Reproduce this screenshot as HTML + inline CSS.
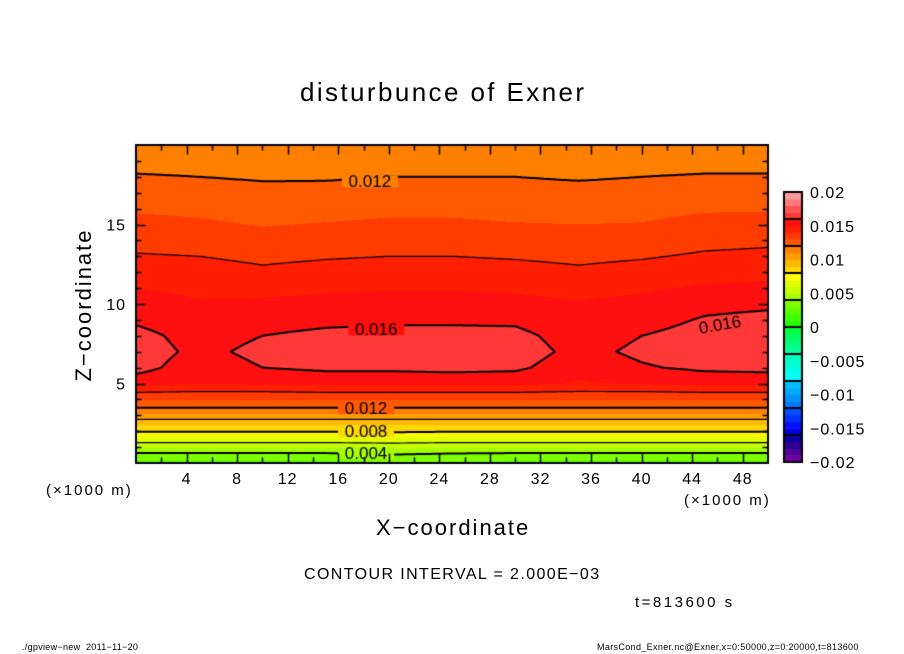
<!DOCTYPE html>
<html><head><meta charset="utf-8">
<style>
html,body{margin:0;padding:0;background:#fff;}
#wrap{position:relative;width:904px;height:654px;overflow:hidden;font-family:"Liberation Sans",sans-serif;color:#000;}
.t{position:absolute;white-space:nowrap;}
canvas{position:absolute;left:0;top:0;}
svg{position:absolute;left:0;top:0;}
</style></head>
<body>
<div id="wrap">
<canvas id="cv" width="904" height="654"></canvas>
<svg id="sv" width="904" height="654"></svg>
<div class="t" style="left:300px;top:77px;font-size:26px;letter-spacing:2.4px;">disturbunce of Exner</div>
<div class="t" style="left:84px;top:305px;font-size:22px;letter-spacing:2px;transform:translate(-50%,-50%) rotate(-90deg);">Z−coordinate</div>
<div class="t" style="left:376px;top:515px;font-size:22px;letter-spacing:2px;">X−coordinate</div>
<div class="t" style="left:46px;top:482px;font-size:15px;letter-spacing:2px;">(×1000 m)</div>
<div class="t" style="left:684px;top:492px;font-size:15px;letter-spacing:2px;">(×1000 m)</div>
<div class="t" style="left:304px;top:566px;font-size:16px;letter-spacing:1.4px;">CONTOUR INTERVAL = 2.000E−03</div>
<div class="t" style="left:635px;top:594px;font-size:15px;letter-spacing:2.5px;">t=813600 s</div>
<div class="t" style="left:22px;top:642px;font-size:9px;letter-spacing:0.3px;">./gpview−new &nbsp;2011−11−20</div>
<div class="t" style="left:597px;top:642px;font-size:9px;letter-spacing:0.35px;">MarsCond_Exner.nc@Exner,x=0:50000,z=0:20000,t=813600</div>
</div>
<script>
// ---- data ----
const xs=[0,5,10,15,20,25,30,35,40,45,50];
const zs=[0,0.5,1,1.5,2,2.5,3,3.5,4,4.5,5,6,7,8,9,10,12,14,16,18,20];
const vals=[
[0.0027,0.0027,0.0027,0.0027,0.0029,0.0028,0.0027,0.0027,0.0027,0.0027,0.0027],
[0.0036,0.0036,0.0036,0.0036,0.0039,0.0037,0.0036,0.0036,0.0036,0.0036,0.0036],
[0.0052,0.0052,0.0052,0.0052,0.0053,0.0052,0.0052,0.0052,0.0052,0.0052,0.0052],
[0.0066,0.0066,0.0066,0.0066,0.0067,0.0066,0.0066,0.0066,0.0066,0.0066,0.0066],
[0.0081,0.0081,0.0081,0.0081,0.0082,0.0081,0.0081,0.0081,0.0081,0.0081,0.0081],
[0.0093,0.0093,0.0093,0.0093,0.0093,0.0093,0.0093,0.0093,0.0093,0.0093,0.0093],
[0.0107,0.0107,0.0107,0.0107,0.0107,0.0107,0.0107,0.0107,0.0107,0.0107,0.0107],
[0.0121,0.0121,0.0121,0.0121,0.0121,0.0121,0.0121,0.0121,0.0121,0.0121,0.0121],
[0.0131,0.0131,0.0131,0.0131,0.0131,0.0131,0.0131,0.0131,0.0131,0.0131,0.0131],
[0.0141,0.0140,0.0140,0.0141,0.0141,0.0141,0.0141,0.0140,0.0140,0.0141,0.0141],
[0.0154,0.0150,0.0152,0.0153,0.0153,0.0153,0.0153,0.0149,0.0151,0.0153,0.0153],
[0.0164,0.0154,0.0160,0.0162,0.0162,0.0163,0.0162,0.0154,0.0159,0.0162,0.0163],
[0.0166,0.0157,0.0163,0.0165,0.0165,0.0166,0.0165,0.0157,0.0162,0.0165,0.0166],
[0.0164,0.0155,0.0160,0.0163,0.0164,0.0164,0.0163,0.0155,0.0160,0.0164,0.0165],
[0.0158,0.0152,0.0155,0.0157,0.0158,0.0158,0.0158,0.0152,0.0156,0.0161,0.0163],
[0.0154,0.0151,0.0152,0.0153,0.0154,0.0154,0.0153,0.0151,0.0153,0.0157,0.0158],
[0.0146,0.0145,0.0142,0.0144,0.0145,0.0145,0.0144,0.0142,0.0144,0.0146,0.0147],
[0.0136,0.0135,0.0133,0.0134,0.0135,0.0135,0.0134,0.0133,0.0134,0.0137,0.0138],
[0.0129,0.0128,0.0126,0.0127,0.0128,0.0128,0.0127,0.0127,0.0127,0.0129,0.0129],
[0.0121,0.0120,0.0119,0.0119,0.0120,0.0120,0.0120,0.0119,0.0120,0.0121,0.0121],
[0.0111,0.0111,0.0111,0.0111,0.0111,0.0111,0.0111,0.0111,0.0111,0.0111,0.0111]];
const xTicks=[4,8,12,16,20,24,28,32,36,40,44,48];
const zTicks=[5,10,15];
const cbLabels=[0.02,0.015,0.01,0.005,0,-0.005,-0.01,-0.015,-0.02];
const cbLabelText=["0.02","0.015","0.01","0.005","0","−0.005","−0.01","−0.015","−0.02"];
const levels=[0.002,0.004,0.006,0.008,0.010,0.012,0.014,0.016];
const labeledLevels=[0.004,0.008,0.012,0.016];
const palette=["#7000a0","#500098","#300090","#1000a0","#0000e0","#0010ff","#0030ff","#0050ff",
"#0078ff","#0090ff","#00a8ff","#00c0ff","#00ffff","#00ffe8","#00ffd0","#00ffc0",
"#00ffa0","#00ff80","#00ff60","#00ff40","#20ff00","#40ff00","#60ff00","#80ff00",
"#a8ff00","#c8ff00","#e0ff00","#ffff00","#ffd800","#ffb800","#ff9c00","#ff8000",
"#ff5a00","#ff3c00","#ff1e00","#ff1010","#ff3838","#ff5555","#ff7a7a","#ff9a9a"];
const contourLabels=[{v:0.012,x:18.5,z:17.7,r:0},{v:0.016,x:19,z:8.4,r:0},{v:0.016,x:46.2,z:8.7,r:-10},
{v:0.012,x:18.2,z:3.45,r:0},{v:0.008,x:18.2,z:2.0,r:0},{v:0.004,x:18.2,z:0.63,r:0}];
// ---- geometry ----
const PX0=136,PX1=768,PY0=145,PY1=463;
const sx=x=>PX0+(x/50)*(PX1-PX0);
const sz=z=>PY1-(z/20)*(PY1-PY0);
function field(x,z){
  let i=0;while(i<xs.length-2&&x>xs[i+1])i++;
  let j=0;while(j<zs.length-2&&z>zs[j+1])j++;
  const tx=Math.min(1,Math.max(0,(x-xs[i])/(xs[i+1]-xs[i])));
  const tz=Math.min(1,Math.max(0,(z-zs[j])/(zs[j+1]-zs[j])));
  const a=vals[j][i],b=vals[j][i+1],c=vals[j+1][i],d=vals[j+1][i+1];
  return (a*(1-tx)+b*tx)*(1-tz)+(c*(1-tx)+d*tx)*tz;
}
function colorOf(v){let k=Math.floor((v+0.02)/0.001+1e-9);k=Math.max(0,Math.min(39,k));return palette[k];}
const cv=document.getElementById('cv');const ctx=cv.getContext('2d');
for(let py=PY0;py<PY1;py++){for(let px=PX0;px<PX1;px++){
  const x=(px+0.5-PX0)/(PX1-PX0)*50,z=(PY1-py-0.5)/(PY1-PY0)*20;
  ctx.fillStyle=colorOf(field(x,z));ctx.fillRect(px,py,1,1);}}
// contours
const N=200,M=100;
const g=[];for(let j=0;j<=M;j++){g.push([]);for(let i=0;i<=N;i++)g[j].push(field(i*50/N,j*20/M));}
ctx.strokeStyle="#000";ctx.lineCap="round";
levels.forEach(L=>{
  ctx.lineWidth=labeledLevels.some(l=>Math.abs(l-L)<1e-9)?2:1.2;
  ctx.beginPath();
  for(let j=0;j<M;j++)for(let i=0;i<N;i++){
    const c=[[i,j,g[j][i]],[i+1,j,g[j][i+1]],[i+1,j+1,g[j+1][i+1]],[i,j+1,g[j+1][i]]];
    const pts=[];
    for(let k=0;k<4;k++){const p=c[k],q=c[(k+1)%4];
      if((p[2]>=L)!==(q[2]>=L)){const t=(q[2]===p[2])?0.5:(L-p[2])/(q[2]-p[2]);
        pts.push([sx((p[0]+(q[0]-p[0])*t)*50/N),sz((p[1]+(q[1]-p[1])*t)*20/M)]);}}
    for(let k=0;k+1<pts.length;k+=2){ctx.moveTo(pts[k][0],pts[k][1]);ctx.lineTo(pts[k+1][0],pts[k+1][1]);}
  }
  ctx.stroke();
});
// contour labels
ctx.font='17px "Liberation Sans", sans-serif';ctx.textAlign="center";ctx.textBaseline="middle";
contourLabels.forEach(l=>{
  const px=sx(l.x),py=sz(l.z);ctx.save();ctx.translate(px,py);ctx.rotate(l.r*Math.PI/180);
  ctx.fillStyle=colorOf(field(l.x,l.z+0.25));ctx.fillRect(-28,-6,56,12);
  ctx.fillStyle="#000";ctx.fillText(l.v.toFixed(3),0,1);ctx.restore();
});
// frame & ticks
ctx.lineWidth=2;ctx.strokeStyle="#000";ctx.strokeRect(PX0,PY0,PX1-PX0,PY1-PY0);
ctx.lineWidth=1.5;ctx.beginPath();
for(let x=2;x<50;x+=2){const L=(x%4===0)?9:5;const X=Math.round(sx(x))+0.5;
  ctx.moveTo(X,PY1);ctx.lineTo(X,PY1-L);ctx.moveTo(X,PY0);ctx.lineTo(X,PY0+L);}
for(let z=1;z<20;z++){const L=(z%5===0)?9:5;const Y=Math.round(sz(z))+0.5;
  ctx.moveTo(PX0,Y);ctx.lineTo(PX0+L,Y);ctx.moveTo(PX1,Y);ctx.lineTo(PX1-L,Y);}
ctx.stroke();
// colorbar
const CX=784,CW=18,CY0=192,CY1=462;
const cy=v=>CY1-(v+0.02)/0.04*(CY1-CY0);
for(let k=0;k<40;k++){ctx.fillStyle=palette[k];const y1=cy(-0.02+k*0.001),y2=cy(-0.02+(k+1)*0.001);ctx.fillRect(CX,y2,CW,y1-y2+0.5);}
ctx.lineWidth=2;ctx.strokeRect(CX,CY0,CW,CY1-CY0);
ctx.beginPath();for(let k=1;k<10;k++){const y=cy(-0.02+k*0.004);ctx.moveTo(CX,y);ctx.lineTo(CX+CW,y);}ctx.stroke();
// svg text
const sv=document.getElementById('sv');const NS="http://www.w3.org/2000/svg";
function txt(x,y,s,anchor){const t=document.createElementNS(NS,'text');
  t.setAttribute('x',x);t.setAttribute('y',y);t.setAttribute('text-anchor',anchor);
  t.setAttribute('font-family','"Liberation Sans", sans-serif');t.setAttribute('font-size','16');
  t.setAttribute('letter-spacing','1');
  t.textContent=s;sv.appendChild(t);return t;}
xTicks.forEach(v=>{const t=txt(sx(v),484,String(v),'middle');
  
  });
zTicks.forEach(v=>{const t=txt(126,sz(v)+6,String(v),'end');
  
  });
cbLabels.forEach((v,i)=>{const t=txt(810,cy(v)+6,cbLabelText[i],'start');
  
  });
</script>
</body></html>
